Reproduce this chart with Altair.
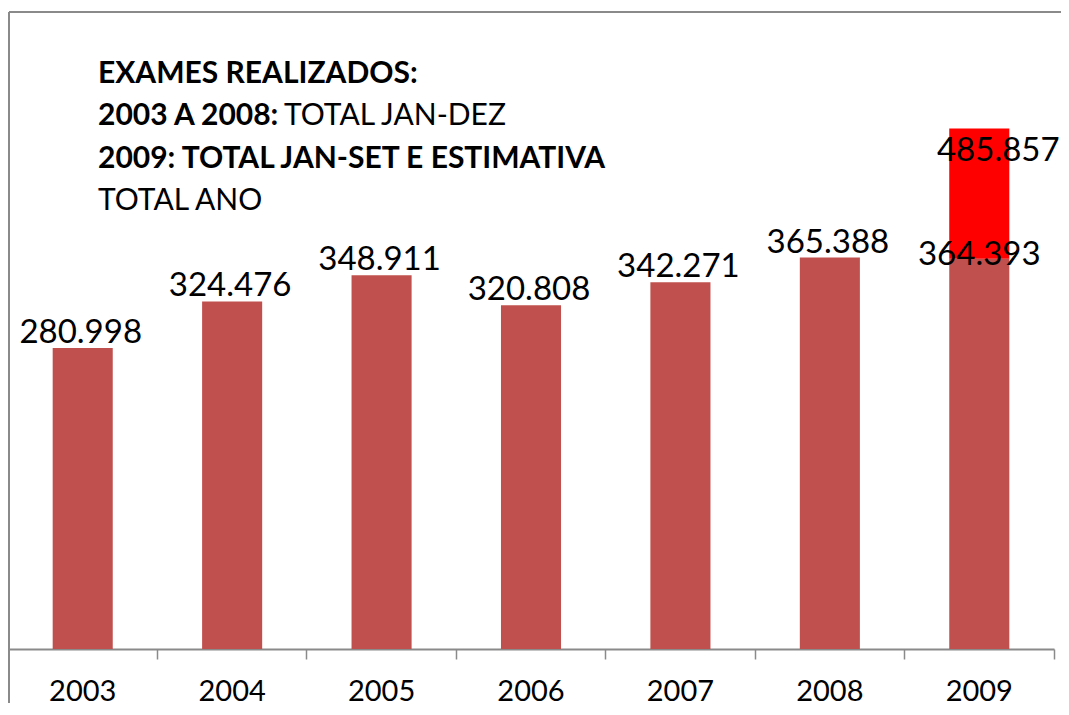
import altair as alt
import pandas as pd

years = ["2003", "2004", "2005", "2006", "2007", "2008", "2009"]
totals = [280998, 324476, 348911, 320808, 342271, 365388, 364393]
estimate_year = "2009"
estimate_total = 485857

title_lines = [
    "EXAMES REALIZADOS:",
    "2003 A 2008:",
    "TOTAL JAN-DEZ",
    "2009: TOTAL JAN-SET E ESTIMATIVA",
    "TOTAL ANO",
]

def fmt(v):
    return f"{v:,}".replace(",", ".")

rows = []
for y, v in zip(years, totals):
    rows.append({"year": y, "start": 0, "end": v, "part": "realizado", "label": fmt(v)})
rows.append({"year": estimate_year, "start": totals[-1], "end": estimate_total,
             "part": "estimativa", "label": fmt(estimate_total)})
df = pd.DataFrame(rows)
year_df = pd.DataFrame({"year": years})

W, H = 1046, 641
FONT = "Lato"
GRAY = "#8a8a8a"

xscale = alt.Scale(domain=years, paddingInner=0.598, paddingOuter=0.299)
xenc = alt.X("year:N", sort=years, scale=xscale,
             axis=alt.Axis(title=None, labels=False, domainColor=GRAY, domainWidth=2,
                           tickColor=GRAY, tickWidth=1.5, tickSize=10,
                           bandPosition=1.745, grid=False))
yscale = alt.Scale(domain=[0, 598400], nice=False, zero=False)

base = alt.Chart(df)

bars = base.mark_bar().encode(
    x=xenc,
    y=alt.Y("end:Q", scale=yscale, axis=None),
    y2="start:Q",
    color=alt.Color("part:N", scale=alt.Scale(domain=["realizado", "estimativa"],
                                              range=["#C0504D", "#FF0000"]), legend=None),
)

xs = alt.X("year:N", sort=years, scale=xscale)

labels_main = base.transform_filter(
    (alt.datum.part == "realizado") & (alt.datum.year != estimate_year)
).mark_text(font=FONT, fontSize=33, baseline="alphabetic", dy=-5, dx=-2, color="black").encode(
    x=xs, y=alt.Y("end:Q", scale=yscale), text="label:N")

labels_2009 = base.transform_filter(
    (alt.datum.part == "realizado") & (alt.datum.year == estimate_year)
).mark_text(font=FONT, fontSize=33, baseline="alphabetic", dy=6, color="black").encode(
    x=xs, y=alt.Y("end:Q", scale=yscale), text="label:N")

labels_est = base.transform_filter(alt.datum.part == "estimativa").mark_text(
    font=FONT, fontSize=33, baseline="alphabetic", dy=32, dx=19, color="black").encode(
    x=xs, y=alt.Y("end:Q", scale=yscale), text="label:N")

year_labels = alt.Chart(year_df).mark_text(
    font=FONT, fontSize=29, baseline="alphabetic", color="black").encode(
    x=xs, y=alt.value(H + 52), text="year:N")

one = alt.Data(values=[{"k": 1}])

def title_text(txt, x, y, bold):
    return alt.Chart(one).mark_text(
        text=txt, font=FONT, fontSize=30, fontWeight="bold" if bold else "normal",
        align="left", baseline="alphabetic", color="black"
    ).encode(x=alt.value(x), y=alt.value(y))

titles = [
    title_text(title_lines[0], 90, 75, True),
    title_text(title_lines[1], 90, 117, True),
    title_text(title_lines[2], 276, 117, False),
    title_text(title_lines[3], 90, 160, True),
    title_text(title_lines[4], 90, 202, False),
]

def rule(x, x2, y, y2):
    return alt.Chart(one).mark_rule(color=GRAY, strokeWidth=2).encode(
        x=alt.value(x), x2=alt.value(x2), y=alt.value(y), y2=alt.value(y2))

borders = [
    rule(1, 1060, 4, 4),
    rule(1, 1, 4, 706),
]

chart = alt.layer(bars, labels_main, labels_2009, labels_est, year_labels,
                  *titles, *borders).properties(
    width=W, height=H,
    autosize=alt.AutoSizeParams(type="none"),
    padding={"left": 0, "top": 0, "right": 7, "bottom": 54},
).configure_view(stroke=None)

chart.save("out.html", embed_options={"renderer": "svg", "actions": False})
